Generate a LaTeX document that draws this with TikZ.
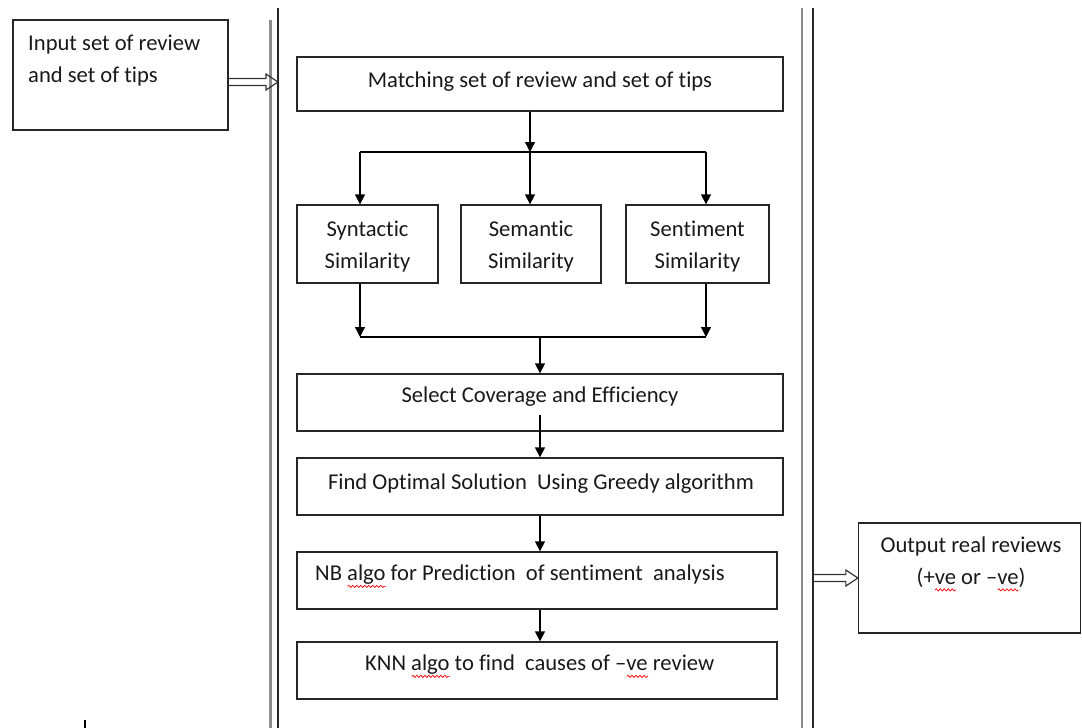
\documentclass[tikz,border=0pt]{standalone}
\usepackage{fontspec}
\setmainfont{Carlito}[Ligatures={NoCommon}]
\usetikzlibrary{arrows.meta,calc,decorations.pathmorphing}
\newlength\sqw
\newcommand\sqg[1]{\settowidth\sqw{#1}\rlap{\tikz[baseline=0pt,x=1pt,y=1pt]\draw[red,line width=0.7pt,decorate,decoration={snake,amplitude=1.1pt,segment length=4pt}] (0,-5.5) -- (\the\sqw,-5.5);}#1}
\tikzset{
  box/.style={draw=black!85, line width=1.3pt, minimum width=#1, inner sep=0pt, rectangle},
  txt/.style={font=\fontsize{22.6}{32}\selectfont, inner sep=0pt, text=black!90, yshift=-1.5pt},
  arr/.style={line width=1.3pt, -{Triangle[width=10pt,length=10pt]}},
  ln/.style={line width=1.3pt},
  hol/.style={draw=black!80, line width=1.2pt, line join=miter},
  railg/.style={draw=black!45, line width=2.2pt},
  railb/.style={draw=black!85, line width=1.4pt}
}
\begin{document}
\begin{tikzpicture}[x=1pt,y=-1pt]
\useasboundingbox (0,0) rectangle (1082,728);
% rails
\draw[railg] (270.5,20) coordinate (lg1) -- (270.5,728) coordinate (lg2);
\draw[railb] (278,8) coordinate (lb1) -- (278,728) coordinate (lb2);
\draw[railg] (802,8) coordinate (rg1) -- (802,728) coordinate (rg2);
\draw[railb] (813,8) coordinate (rb1) -- (813,728) coordinate (rb2);
\draw[line width=2pt] (85,720) coordinate (mk1) -- (85,728) coordinate (mk2);
% input
\node[box=215pt, minimum height=110pt] (in) at (120.5,75) {};
\node[txt, anchor=west, align=left] (intx) at (28,59) {Input set of review\\and set of tips};
% matching
\node[box=486pt, minimum height=54pt] (m) at (540,84) {};
\node[txt] (mtx) at (540,80) {Matching set of review and set of tips};
% similarity
\node[box=141pt, minimum height=78pt] (syn) at (367.5,244) {};
\node[box=140pt, minimum height=78pt] (sem) at (531,244) {};
\node[box=143pt, minimum height=78pt] (sen) at (697.5,244) {};
\node[txt, align=center] (syntx) at (367.5,245) {Syntactic\\Similarity};
\node[txt, align=center] (semtx) at (531,245) {Semantic\\Similarity};
\node[txt, align=center] (sentx) at (697.5,245) {Sentiment\\Similarity};
% lower boxes
\node[box=486pt, minimum height=57pt] (sel) at (540,402.5) {};
\node[txt] (seltx) at (540,395) {Select Coverage and Efficiency};
\node[box=486pt, minimum height=57pt] (fnd) at (540,486.5) {};
\node[txt] (fndtx) at (541,482) {Find Optimal Solution\ \ Using Greedy algorithm};
\node[box=480pt, minimum height=57pt] (nb) at (537,580.5) {};
\node[txt, anchor=west] (nbtx) at (315,575) {NB \sqg{algo} for Prediction\ \ of sentiment\ \ analysis};
\node[box=480pt, minimum height=57pt] (knn) at (537,670.5) {};
\node[txt, anchor=west] (knntx) at (365,665) {KNN \sqg{algo} to find\ \ causes of --\sqg{ve} review};
% output
\node[box=222pt, minimum height=110pt] (out) at (969.5,578) {};
\node[txt, align=center] (outtx) at (971,562.5) {Output real reviews\\(+\sqg{ve} or --\sqg{ve})};
% coordinates
\coordinate (sL) at (360,152);
\coordinate (sM) at (530,152);
\coordinate (sR) at (706,152);
\coordinate (jL) at (360,337);
\coordinate (jR) at (706,337);
\coordinate (jM) at (540,337);
\coordinate (sx) at (540,415);
\coordinate (a1s) at (in.east |- 0,82);
\coordinate (a1e) at (lb1 |- 0,82);
\coordinate (a2s) at (rb1 |- 0,578);
\coordinate (a2e) at (out.west |- 0,578);
% connectors
\draw[arr] (sM |- m.south) -- (sM);
\draw[ln] (sL) -- (sR);
\draw[arr] (sL) -- (sL |- syn.north);
\draw[arr] (sM) -- (sM |- sem.north);
\draw[arr] (sR) -- (sR |- sen.north);
\draw[arr] (sL |- syn.south) -- (jL);
\draw[arr] (sR |- sen.south) -- (jR);
\draw[ln] (jL) -- (jR);
\draw[arr] (jM) -- (jM |- sel.north);
\draw[arr] (sx) -- (sx |- fnd.north);
\draw[arr] (sx |- fnd.south) -- (sx |- nb.north);
\draw[arr] (sx |- nb.south) -- (sx |- knn.north);
\draw[hol] let \p1=(a1s), \p2=(a1e) in
  (\x1,\y1+3.5pt) -- (\x2-12pt,\y1+3.5pt) -- (\x2-12pt,\y1+8pt) -- (\x2,\y1) -- (\x2-12pt,\y1-8pt) -- (\x2-12pt,\y1-3.5pt) -- (\x1,\y1-3.5pt);
\draw[hol] let \p1=(a2s), \p2=(a2e) in
  (\x1,\y1+3.5pt) -- (\x2-12pt,\y1+3.5pt) -- (\x2-12pt,\y1+8pt) -- (\x2,\y1) -- (\x2-12pt,\y1-8pt) -- (\x2-12pt,\y1-3.5pt) -- (\x1,\y1-3.5pt);
\end{tikzpicture}
\end{document}
